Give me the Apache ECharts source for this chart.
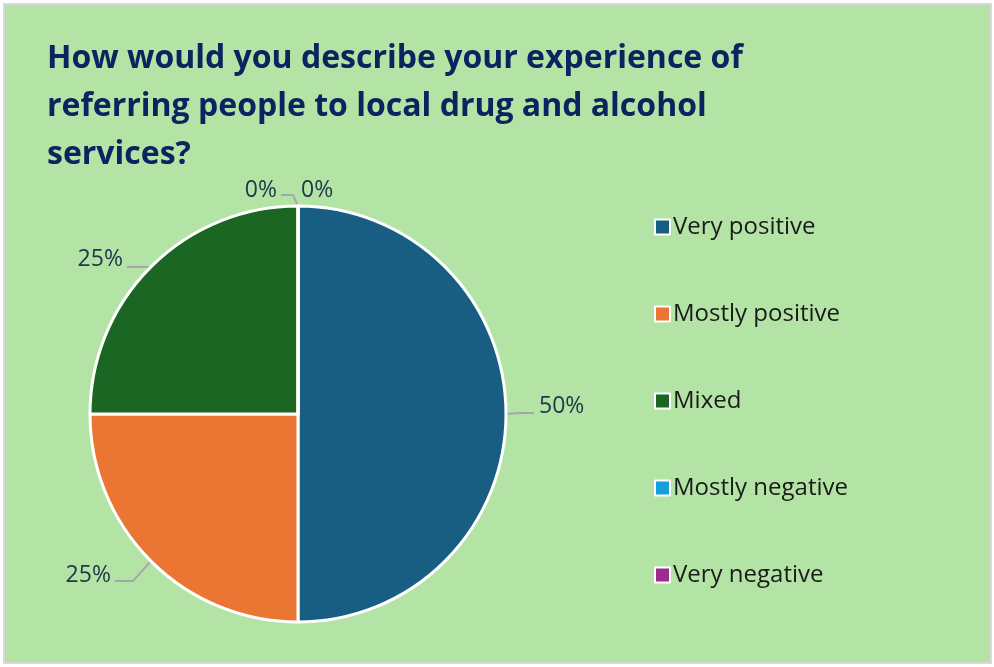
<!DOCTYPE html>
<html>
<head>
<meta charset="utf-8">
<script src="https://cdn.jsdelivr.net/npm/echarts@6/dist/echarts.min.js"></script>
<style>
  html, body { margin: 0; padding: 0; background: #ffffff; }
  #chart { width: 994px; height: 667px; }
</style>
</head>
<body>
<div id="chart"></div>
<script>
// Survey responses, share of respondents per answer
const categories = ['Very positive', 'Mostly positive', 'Mixed', 'Mostly negative', 'Very negative'];
const shares = [50, 25, 25, 0, 0];
const colors = ['#175e82', '#eb7533', '#1a6622', '#159fdc', '#9e2a8e'];
const titleText = 'How would you describe your experience of\nreferring people to local drug and alcohol\nservices?';

const chart = echarts.init(document.getElementById('chart'));

// Leader-line shapes per slice: [dx1, dy1, dx2, dy2, text dx, text dy, align]
function leader(p) {
  const a = p.labelLinePoints ? p.labelLinePoints[0] : null;
  if (!a) return {};
  const pt = (dx, dy) => [a[0] + dx, a[1] + dy];
  let l;
  switch (p.dataIndex) {
    case 0: l = [14, -1, 28, -1, 33, -8, 'left']; break;
    case 1: l = [-18, 20, -36, 20, -40, 14, 'right']; break;
    case 2: l = [-12, 0, -24, 0, -28, -7, 'right']; break;
    case 3: l = [-5, -11, -17, -11, -21, -16, 'right']; break;
    default:
      return { x: a[0] + 3, y: a[1] - 16, align: 'left', verticalAlign: 'middle', labelLinePoints: [a, a, a] };
  }
  return {
    x: a[0] + l[4],
    y: a[1] + l[5],
    align: l[6],
    verticalAlign: 'middle',
    labelLinePoints: [a, pt(l[0], l[1]), pt(l[2], l[3])]
  };
}

chart.setOption({
  backgroundColor: '#ffffff',
  graphic: [{
    type: 'rect',
    shape: { x: 4, y: 4, width: 987, height: 659 },
    style: { fill: '#b4e4a5', stroke: '#d9d9d9', lineWidth: 2 },
    z: -10
  }],
  title: {
    text: titleText,
    left: 42,
    top: 30,
    textStyle: {
      fontFamily: 'Open Sans',
      fontWeight: 'bold',
      fontSize: 32,
      lineHeight: 48,
      color: '#0b2460'
    }
  },
  legend: {
    orient: 'vertical',
    left: 649,
    top: 210,
    itemGap: 63,
    itemWidth: 15,
    itemHeight: 15,
    icon: 'rect',
    itemStyle: { borderColor: '#ffffff', borderWidth: 2 },
    textStyle: { fontFamily: 'Open Sans', fontSize: 24, lineHeight: 24, color: '#1a1a1a', padding: [0, 0, 0, -2] },
    data: categories
  },
  series: [{
    type: 'pie',
    center: [298, 414],
    radius: 208,
    startAngle: 90,
    clockwise: true,
    avoidLabelOverlap: false,
    color: colors,
    itemStyle: { borderColor: '#ffffff', borderWidth: 3 },
    label: {
      show: true,
      formatter: '{c}%',
      fontFamily: 'Open Sans',
      fontSize: 23,
      color: '#22384a'
    },
    labelLine: {
      show: true,
      length: 14,
      length2: 16,
      lineStyle: { color: '#a6a6a6', width: 2 }
    },
    labelLayout: leader,
    emphasis: { disabled: true },
    data: categories.map((name, i) => ({ name, value: shares[i] }))
  }]
});
</script>
</body>
</html>
